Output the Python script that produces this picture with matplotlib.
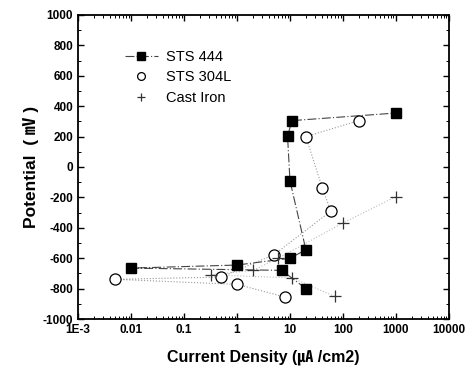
import matplotlib
matplotlib.use("Agg")
import matplotlib.pyplot as plt
from matplotlib.ticker import LogLocator, MultipleLocator, FixedLocator, NullFormatter

plt.rcParams['font.family'] = ['Liberation Sans', 'Noto Sans CJK KR', 'DejaVu Sans']
plt.rcParams['axes.unicode_minus'] = False

sts444_i = [20, 7, 0.01, 1, 10, 20, 10, 9, 11, 1000]
sts444_e = [-800, -680, -665, -645, -600, -545, -90, 205, 305, 355]

sts304_i = [8, 1, 0.005, 0.5, 5, 59, 41, 20, 200]
sts304_e = [-855, -772, -739, -724, -577, -291, -140, 200, 305]

cast_i = [70, 11, 0.32, 2, 6, 100, 1000]
cast_e = [-851, -730, -709, -680, -600, -368, -195]

xticks = [1e-3, 1e-2, 1e-1, 1, 10, 100, 1000, 10000]
xticklabels = ['1E-3', '0.01', '0.1', '1', '10', '100', '1000', '10000']
yticks = list(range(-1000, 1001, 200))

fig = plt.figure(figsize=(4.76, 3.74), dpi=100)
ax = fig.add_axes([0.164, 0.147, 0.779, 0.813])

ax.plot(sts444_i, sts444_e, linestyle=(0, (8, 2, 1, 2)), color='#444444', lw=0.8,
        marker='s', markersize=7.5, markerfacecolor='black', markeredgecolor='black',
        label='STS 444', zorder=3)
ax.plot(sts304_i, sts304_e, linestyle=':', color='#999999', lw=0.8, zorder=2)
ax.plot(sts304_i, sts304_e, linestyle='none', marker='o', markersize=8,
        markerfacecolor='white', markeredgecolor='black', markeredgewidth=0.9,
        label='STS 304L', zorder=3)
ax.plot(cast_i, cast_e, linestyle=':', color='#bbbbbb', lw=0.8, zorder=2)
ax.plot(cast_i, cast_e, linestyle='none', marker='+', markersize=9,
        markeredgecolor='#333333', markeredgewidth=0.9,
        label='Cast Iron', zorder=3)

ax.set_xscale('log')
ax.set_xlim(1e-3, 1e4)
ax.set_ylim(-1000, 1000)
ax.xaxis.set_major_locator(FixedLocator(xticks))
ax.set_xticklabels(xticklabels)
ax.xaxis.set_minor_locator(LogLocator(base=10, subs=range(2, 10), numticks=20))
ax.xaxis.set_minor_formatter(NullFormatter())
ax.set_yticks(yticks)
ax.yaxis.set_minor_locator(MultipleLocator(100))

ax.tick_params(which='both', direction='in', top=True, right=True, labelsize=8.5)
ax.tick_params(which='major', length=4, width=1)
ax.tick_params(which='minor', length=2, width=0.7)
for lab in ax.get_xticklabels() + ax.get_yticklabels():
    lab.set_fontweight('bold')
for sp in ax.spines.values():
    sp.set_linewidth(1.3)

ax.set_xlabel('Current Density (\u3382 /cm2)', fontsize=11.5, fontweight='bold', labelpad=10)
ax.set_ylabel('Potential  ( \u33b7 )', fontsize=12.5, fontweight='bold', labelpad=3)

leg = ax.legend(loc='upper left', bbox_to_anchor=(0.11, 0.905), frameon=False,
                fontsize=10.5, handlelength=2.3, handletextpad=0.5, labelspacing=0.45,
                borderaxespad=0, markerscale=0.7)

fig.savefig('out.png', dpi=100)
